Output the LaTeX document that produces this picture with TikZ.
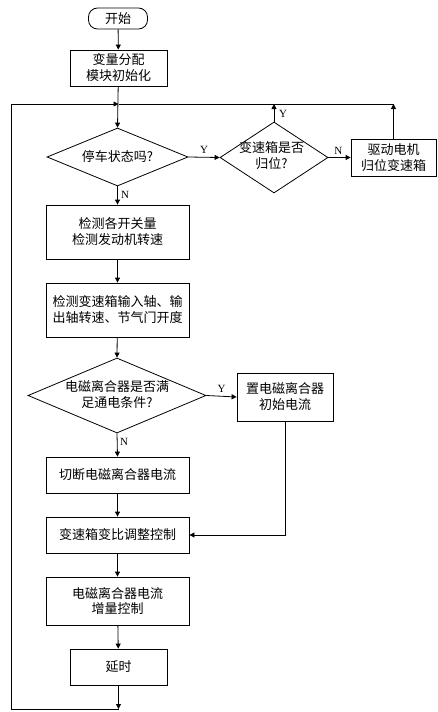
\documentclass[tikz,border=0pt]{standalone}
\usepackage{fontspec}
\setmainfont{Liberation Serif}
\newfontfamily\cjk{Noto Sans CJK SC}
\usetikzlibrary{arrows.meta,shapes.geometric}
\tikzset{
  every node/.style={inner sep=0pt},
  procbox/.style={draw,line width=0.8pt,rectangle,align=center,font=\cjk\fontsize{13}{16}\selectfont},
  decbox/.style={draw,line width=0.8pt,diamond,aspect=2},
  dtext/.style={align=center,font=\cjk\fontsize{13}{16}\selectfont},
  yn/.style={font=\fontsize{11}{12}\selectfont},
  arr/.style={line width=0.8pt,-{Triangle[length=5pt,width=5pt]}},
  ln/.style={line width=0.8pt}
}
\begin{document}
\begin{tikzpicture}[x=1pt,y=-1pt]
\useasboundingbox (0,0) rectangle (437,712);
% nodes
\node[procbox,rounded corners=9pt,minimum width=59pt,minimum height=21pt] (start) at (118,18.5) {开始};
\node[procbox,minimum width=97pt,minimum height=36pt] (init) at (118.5,68) {变量分配\\模块初始化};
\node[decbox,minimum width=141pt,minimum height=58pt] (d1) at (117.5,157) {};
\node[dtext] (d1t) at (d1.center) {停车状态吗?};
\node[decbox,minimum width=108pt,minimum height=71pt] (d2) at (274,157.5) {};
\node[dtext] (d2t) at (271.5,156) {变速箱是否\\归位?};
\node[procbox,minimum width=85pt,minimum height=37pt] (motor) at (393.5,157.5) {驱动电机\\归位变速箱};
\node[procbox,minimum width=143pt,minimum height=54pt] (b1) at (117.5,232) {检测各开关量\\检测发动机转速};
\node[procbox,minimum width=143pt,minimum height=54pt] (b2) at (117.5,310) {检测变速箱输入轴、输\\出轴转速、节气门开度};
\node[decbox,minimum width=178pt,minimum height=75pt] (d3) at (117,395.5) {};
\node[dtext] (d3t) at (117,395) {电磁离合器是否满\\足通电条件?};
\node[procbox,minimum width=96pt,minimum height=48pt] (b3) at (285,397) {置电磁离合器\\初始电流};
\node[procbox,minimum width=143pt,minimum height=36pt] (b4) at (117.5,475) {切断电磁离合器电流};
\node[procbox,minimum width=143pt,minimum height=36pt] (b5) at (117.5,535) {变速箱变比调整控制};
\node[procbox,minimum width=143pt,minimum height=48pt] (b6) at (117.5,601) {电磁离合器电流\\增量控制};
\node[procbox,minimum width=97pt,minimum height=36pt] (b7) at (118.5,667) {延时};
% loop coordinates
\coordinate (merge) at (118.5,104);
\coordinate (bot) at (118.5,709);
\coordinate (lb) at (11,709);
\coordinate (lt) at (11,104);
\coordinate (tr) at (393.5,104);
\coordinate (d2up) at (274,104);
% connectors
\draw[arr] (start) -- (init);
\draw[arr] (init) -- (d1.north);
\draw[arr] (d1.east) -- node[yn,above=3pt,pos=0.5] (ly1) {Y} (d2.west);
\draw[arr] (d2.north) -- (d2up);
\node[yn,anchor=west] (ly2) at (279,114) {Y};
\draw[arr] (d2.east) -- node[yn,above=3pt,pos=0.45] (ln1) {N} (motor.west);
\draw[arr] (motor.north) -- (tr);
\draw[ln] (tr) -- (merge);
\draw[arr] (d1.south) -- (b1.north);
\node[yn,anchor=west] (ln2) at (121,194.5) {N};
\draw[arr] (b1) -- (b2);
\draw[arr] (b2) -- (d3.north);
\draw[arr] (d3.east) -- node[yn,above=3pt,pos=0.5] (ly3) {Y} (b3.west);
\draw[arr] (d3.south) -- (b4.north);
\node[yn,anchor=west] (ln3) at (120,442) {N};
\draw[arr] (b4) -- (b5);
\draw[arr] (b3.south) |- (b5.east);
\draw[arr] (b5) -- (b6);
\draw[arr] (b6) -- (b7);
\draw[arr] (b7) -- (bot);
\draw[arr] (bot) -- (lb) -- (lt) -- (merge);
\end{tikzpicture}
\end{document}
